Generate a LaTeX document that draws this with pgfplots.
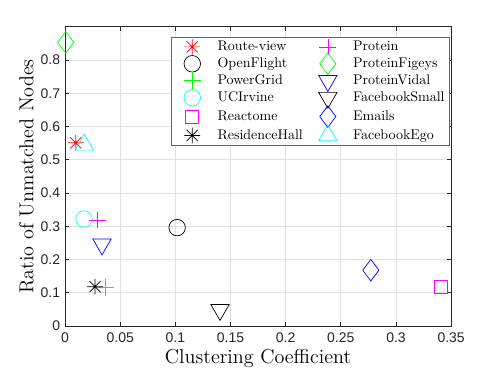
\documentclass[border=0pt]{standalone}
\usepackage{fontspec}
\usepackage{pgfplots}
\pgfplotsset{compat=1.18}
\newfontfamily\tickfont{Liberation Sans}
\definecolor{axgray}{gray}{0.15}
\definecolor{mred}{rgb}{1,0,0}
\definecolor{mgreen}{rgb}{0,1,0}
\definecolor{mcyan}{rgb}{0,1,1}
\definecolor{mmag}{rgb}{1,0,1}
\definecolor{mblue}{rgb}{0,0,1}

% matlab style '*' marker: a + and an x on top of each other
\pgfdeclareplotmark{mstar}{%
  \pgfpathmoveto{\pgfqpoint{-\pgfplotmarksize}{0pt}}%
  \pgfpathlineto{\pgfqpoint{\pgfplotmarksize}{0pt}}%
  \pgfpathmoveto{\pgfqpoint{0pt}{-\pgfplotmarksize}}%
  \pgfpathlineto{\pgfqpoint{0pt}{\pgfplotmarksize}}%
  \pgfpathmoveto{\pgfqpoint{-.707\pgfplotmarksize}{-.707\pgfplotmarksize}}%
  \pgfpathlineto{\pgfqpoint{.707\pgfplotmarksize}{.707\pgfplotmarksize}}%
  \pgfpathmoveto{\pgfqpoint{-.707\pgfplotmarksize}{.707\pgfplotmarksize}}%
  \pgfpathlineto{\pgfqpoint{.707\pgfplotmarksize}{-.707\pgfplotmarksize}}%
  \pgfusepathqstroke}

\begin{document}
\begin{tikzpicture}
\begin{axis}[
    scale only axis,
    width=276pt,
    height=214pt,
    xmin=0, xmax=0.35,
    ymin=0, ymax=0.9,
    xtick={0,0.05,...,0.35},
    ytick={0,0.1,...,0.8},
    /pgf/number format/assume math mode=true,
    tick label style={font=\tickfont\normalsize, text=axgray},
    xticklabel style={/pgf/number format/fixed, /pgf/number format/precision=2, yshift=-1pt},
    yticklabel style={/pgf/number format/fixed, /pgf/number format/precision=1},
    scaled ticks=false,
    xlabel={Clustering Coefficient},
    ylabel={Ratio of Unmatched Nodes},
    label style={font=\Large},
    xlabel style={yshift=2pt},
    ylabel style={yshift=-2pt},
    axis line style={axgray, line width=0.5pt},
    tick style={axgray, line width=0.5pt},
    tick align=inside,
    major tick length=3pt,
    xmajorgrids, ymajorgrids,
    grid style={black!12, line width=0.5pt},
    only marks,
    every axis plot/.append style={line width=0.5pt},
    legend image code/.code={%
        \path (-2.1pt,0pt);
        \draw[mark repeat=2, mark phase=2, #1]
            plot coordinates {(0pt,0pt) (11.5pt,0pt) (23pt,0pt)};
        \path (25.3pt,0pt);},
    legend columns=6,
    transpose legend,
    legend style={at={(0.275,0.967)}, anchor=north west, draw=black!60,
        font=\normalsize, row sep=-1.8pt, column sep=2pt,
        inner xsep=1pt, inner ysep=1pt},
    legend cell align=left,
]
\addplot[mred, mark=mstar, mark size=5.6pt] coordinates {(0.0097,0.551)};
\addlegendentry{Route-view}
\addplot[black, mark=o, mark size=5.9pt] coordinates {(0.1016,0.296)};
\addlegendentry{OpenFlight}
\addplot[mgreen, mark=+, mark size=6pt] coordinates {(0.0369,0.117)};
\addlegendentry{PowerGrid}
\addplot[mcyan, mark=o, mark size=5.9pt] coordinates {(0.0172,0.322)};
\addlegendentry{UCIrvine}
\addplot[mmag, mark=square, mark size=4.6pt] coordinates {(0.3406,0.1185)};
\addlegendentry{Reactome}
\addplot[black, mark=mstar, mark size=5.6pt] coordinates {(0.0272,0.1185)};
\addlegendentry{ResidenceHall}
\addplot[mmag, mark=+, mark size=6pt] coordinates {(0.0293,0.319)};
\addlegendentry{Protein}
\addplot[mgreen, mark=diamond, mark size=7.7pt] coordinates {(0.0006,0.853)};
\addlegendentry{ProteinFigeys}
\addplot[mblue, mark=triangle, mark size=7.6pt, mark options={rotate=180}] coordinates {(0.0335,0.246)};
\addlegendentry{ProteinVidal}
\addplot[black, mark=triangle, mark size=7.6pt, mark options={rotate=180}] coordinates {(0.1405,0.049)};
\addlegendentry{FacebookSmall}
\addplot[mblue, mark=diamond, mark size=7.7pt] coordinates {(0.2772,0.168)};
\addlegendentry{Emails}
\addplot[mcyan, mark=triangle, mark size=7.6pt] coordinates {(0.0175,0.545)};
\addlegendentry{FacebookEgo}
\end{axis}
\path (current axis.south west) ++(-46.5pt,-34.3pt) rectangle ++(356pt,267.4pt);
\end{tikzpicture}
\end{document}
